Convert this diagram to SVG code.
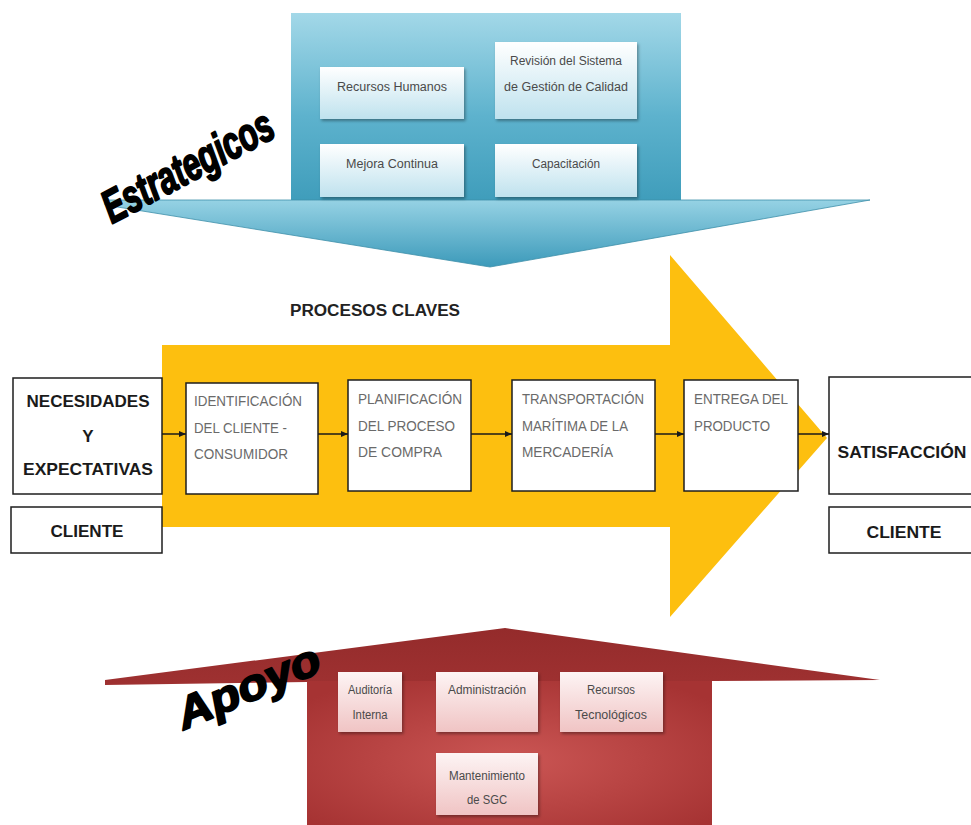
<svg xmlns="http://www.w3.org/2000/svg" width="971" height="825" viewBox="0 0 971 825">
<defs>
  <linearGradient id="blueRect" x1="0" y1="0" x2="0" y2="1">
    <stop offset="0" stop-color="#a3d8e8"/>
    <stop offset="0.55" stop-color="#5db2cd"/>
    <stop offset="1" stop-color="#3f9dbb"/>
  </linearGradient>
  <linearGradient id="blueHead" x1="0" y1="0" x2="0" y2="1">
    <stop offset="0" stop-color="#96d2e4"/>
    <stop offset="1" stop-color="#3c9aba"/>
  </linearGradient>
  <linearGradient id="blueBox" x1="0" y1="0" x2="0" y2="1">
    <stop offset="0" stop-color="#ffffff"/>
    <stop offset="1" stop-color="#bfe2ee"/>
  </linearGradient>
  <radialGradient id="redBody" cx="0.5" cy="0.55" r="0.65">
    <stop offset="0" stop-color="#cb5654"/>
    <stop offset="1" stop-color="#a63333"/>
  </radialGradient>
  <linearGradient id="redRoof" x1="0" y1="0" x2="0" y2="1">
    <stop offset="0" stop-color="#942b2b"/>
    <stop offset="1" stop-color="#b83f3f"/>
  </linearGradient>
  <linearGradient id="pinkBox" x1="0" y1="0" x2="0" y2="1">
    <stop offset="0" stop-color="#fdf4f4"/>
    <stop offset="1" stop-color="#f0c4c4"/>
  </linearGradient>
  <filter id="sh" x="-10%" y="-10%" width="130%" height="130%">
    <feDropShadow dx="1.5" dy="2" stdDeviation="1.5" flood-color="#000" flood-opacity="0.35"/>
  </filter>
  <marker id="arr" markerWidth="8" markerHeight="8" refX="7" refY="4" orient="auto" markerUnits="userSpaceOnUse">
    <path d="M0,1 L7,4 L0,7 Z" fill="#1a1a1a"/>
  </marker>
  <style>
    .box { fill: #ffffff; stroke: #1e1e1e; stroke-width: 1.5; }
    .bbox { fill: url(#blueBox); filter: url(#sh); }
    .pbox { fill: url(#pinkBox); filter: url(#sh); }
    .small { font-family: "Liberation Sans Narrow", "Liberation Sans", Arial, sans-serif; font-size: 12px; fill: #4a4a4a; text-anchor: middle; }
    .proc { font-family: "Liberation Sans Narrow", "Liberation Sans", Arial, sans-serif; font-size: 15px; fill: #6a6a6a; }
    .big { font-family: "Liberation Sans Narrow", "Liberation Sans", Arial, sans-serif; font-size: 17px; font-weight: bold; fill: #1a1a1a; text-anchor: middle; }
    .title { font-family: "Liberation Sans", Arial, sans-serif; font-weight: 900; font-style: italic; fill: #000; stroke: #000; stroke-width: 2; stroke-linejoin: round; }
    .conn { stroke: #1a1a1a; stroke-width: 1.5; fill: none; marker-end: url(#arr); }
  </style>
</defs>

<rect width="971" height="825" fill="#ffffff"/>

<!-- Estrategicos (top) -->
<g id="estrategicos">
  <rect x="291" y="13" width="390" height="188" fill="url(#blueRect)"/>
  <polygon points="105,200 870,200 490,267 105,205" fill="url(#blueHead)" stroke="#3d8fa9" stroke-width="0.8"/>
  <g id="recursos-humanos">
    <rect class="bbox" x="320" y="67" width="144" height="52"/>
    <text class="small" x="392" y="91" textLength="110" lengthAdjust="spacingAndGlyphs">Recursos Humanos</text>
  </g>
  <g id="revision-sgc">
    <rect class="bbox" x="495" y="42" width="142" height="77"/>
    <text class="small" x="566" y="65" textLength="112" lengthAdjust="spacingAndGlyphs">Revisión del Sistema</text>
    <text class="small" x="566" y="91" textLength="124" lengthAdjust="spacingAndGlyphs">de Gestión de Calidad</text>
  </g>
  <g id="mejora-continua">
    <rect class="bbox" x="320" y="144" width="144" height="53"/>
    <text class="small" x="392" y="168" textLength="92" lengthAdjust="spacingAndGlyphs">Mejora Continua</text>
  </g>
  <g id="capacitacion">
    <rect class="bbox" x="495" y="144" width="142" height="53"/>
    <text class="small" x="566" y="168" textLength="68" lengthAdjust="spacingAndGlyphs">Capacitación</text>
  </g>
  <text class="title" font-size="46" transform="translate(112,224) rotate(-28)" textLength="188" lengthAdjust="spacingAndGlyphs">Estrategicos</text>
</g>

<!-- Procesos claves (yellow arrow) -->
<g id="procesos-claves">
  <polygon points="162,345 670,345 670,255 827,438 670,617 670,527 162,527" fill="#fdbf0f"/>
  <text x="290" y="316" font-family="Liberation Sans Narrow, Liberation Sans, Arial, sans-serif" font-size="16" font-weight="bold" fill="#222" textLength="170" lengthAdjust="spacingAndGlyphs">PROCESOS CLAVES</text>
</g>

<g id="necesidades">
  <rect class="box" x="13" y="378" width="149" height="116"/>
  <text class="big" x="88" y="407" textLength="123" lengthAdjust="spacingAndGlyphs">NECESIDADES</text>
  <text class="big" x="88" y="442">Y</text>
  <text class="big" x="88" y="475" textLength="130" lengthAdjust="spacingAndGlyphs">EXPECTATIVAS</text>
</g>
<g id="cliente-izq">
  <rect class="box" x="11" y="507" width="151" height="46"/>
  <text class="big" x="87" y="537" textLength="73" lengthAdjust="spacingAndGlyphs">CLIENTE</text>
</g>

<g id="identificacion">
  <rect class="box" x="186" y="383" width="132" height="111"/>
  <text class="proc" x="194" y="406" textLength="108" lengthAdjust="spacingAndGlyphs">IDENTIFICACIÓN</text>
  <text class="proc" x="194" y="433" textLength="93" lengthAdjust="spacingAndGlyphs">DEL CLIENTE -</text>
  <text class="proc" x="194" y="459" textLength="94" lengthAdjust="spacingAndGlyphs">CONSUMIDOR</text>
</g>
<g id="planificacion">
  <rect class="box" x="348" y="380" width="123" height="111"/>
  <text class="proc" x="358" y="404" textLength="104" lengthAdjust="spacingAndGlyphs">PLANIFICACIÓN</text>
  <text class="proc" x="358" y="431" textLength="97" lengthAdjust="spacingAndGlyphs">DEL PROCESO</text>
  <text class="proc" x="358" y="457" textLength="84" lengthAdjust="spacingAndGlyphs">DE COMPRA</text>
</g>
<g id="transportacion">
  <rect class="box" x="512" y="380" width="143" height="111"/>
  <text class="proc" x="522" y="404" textLength="122" lengthAdjust="spacingAndGlyphs">TRANSPORTACIÓN</text>
  <text class="proc" x="522" y="431" textLength="106" lengthAdjust="spacingAndGlyphs">MARÍTIMA DE LA</text>
  <text class="proc" x="522" y="457" textLength="91" lengthAdjust="spacingAndGlyphs">MERCADERÍA</text>
</g>
<g id="entrega">
  <rect class="box" x="684" y="380" width="114" height="111"/>
  <text class="proc" x="694" y="404" textLength="94" lengthAdjust="spacingAndGlyphs">ENTREGA DEL</text>
  <text class="proc" x="694" y="431" textLength="76" lengthAdjust="spacingAndGlyphs">PRODUCTO</text>
</g>

<g id="satisfaccion">
  <rect class="box" x="829" y="377" width="150" height="117"/>
  <text class="big" x="902" y="458" textLength="129" lengthAdjust="spacingAndGlyphs">SATISFACCIÓN</text>
</g>
<g id="cliente-der">
  <rect class="box" x="829" y="507" width="150" height="46"/>
  <text class="big" x="904" y="538" textLength="75" lengthAdjust="spacingAndGlyphs">CLIENTE</text>
</g>

<g id="connectors">
  <line class="conn" x1="162" y1="434" x2="186" y2="434"/>
  <line class="conn" x1="318" y1="434" x2="348" y2="434"/>
  <line class="conn" x1="471" y1="434" x2="512" y2="434"/>
  <line class="conn" x1="655" y1="434" x2="684" y2="434"/>
  <line class="conn" x1="798" y1="434" x2="829" y2="434"/>
</g>

<!-- Apoyo (bottom) -->
<g id="apoyo">
  <polygon points="105,680 505,628 880,680 712,681 712,825 307,825 307,682 105,685" fill="url(#redRoof)"/>
  <rect x="307" y="681" width="405" height="144" fill="url(#redBody)"/>
  <g id="auditoria">
    <rect class="pbox" x="338" y="672" width="64" height="60"/>
    <text class="small" x="370" y="694" textLength="44" lengthAdjust="spacingAndGlyphs">Auditoría</text>
    <text class="small" x="370" y="719" textLength="35" lengthAdjust="spacingAndGlyphs">Interna</text>
  </g>
  <g id="administracion">
    <rect class="pbox" x="436" y="672" width="102" height="60"/>
    <text class="small" x="487" y="694" textLength="78" lengthAdjust="spacingAndGlyphs">Administración</text>
  </g>
  <g id="recursos-tecnologicos">
    <rect class="pbox" x="560" y="672" width="103" height="60"/>
    <text class="small" x="611" y="694" textLength="48" lengthAdjust="spacingAndGlyphs">Recursos</text>
    <text class="small" x="611" y="719" textLength="72" lengthAdjust="spacingAndGlyphs">Tecnológicos</text>
  </g>
  <g id="mantenimiento">
    <rect class="pbox" x="436" y="753" width="102" height="62"/>
    <text class="small" x="487" y="780" textLength="76" lengthAdjust="spacingAndGlyphs">Mantenimiento</text>
    <text class="small" x="487" y="804" textLength="40" lengthAdjust="spacingAndGlyphs">de SGC</text>
  </g>
  <text class="title" font-size="44" transform="translate(184,730) rotate(-23)" textLength="152" lengthAdjust="spacingAndGlyphs">Apoyo</text>
</g>
</svg>
